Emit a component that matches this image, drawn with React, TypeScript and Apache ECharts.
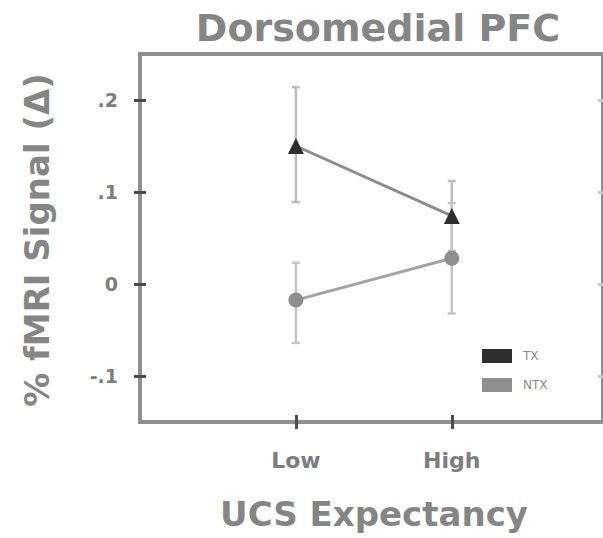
import React, { useEffect, useRef } from "react";
import * as echarts from "echarts";

const categories = ["Low", "High"];
const categoryPositions = [1, 2];
const seriesNames = ["TX", "NTX"];
const txMean = [0.15, 0.074];
const txLower = [0.089, 0.036];
const txUpper = [0.214, 0.112];
const ntxMean = [-0.0175, 0.028];
const ntxLower = [-0.064, -0.032];
const ntxUpper = [0.023, 0.088];
const yTicks = [-0.1, 0, 0.1, 0.2];

const fmtY = (v: number) => {
  if (Math.abs(v) < 1e-9) return "0";
  const s = Math.abs(v).toFixed(1).replace(/^0/, "");
  return (v < 0 ? "-" : "") + s;
};

const errRender = (color: string) => (params: any, api: any) => {
  const x = api.value(0);
  const lo = api.coord([x, api.value(1)]);
  const hi = api.coord([x, api.value(2)]);
  const cw = 4;
  const style = { stroke: color, lineWidth: 2.5, fill: "none" };
  return {
    type: "group",
    children: [
      { type: "line", shape: { x1: lo[0], y1: lo[1], x2: hi[0], y2: hi[1] }, style },
      { type: "line", shape: { x1: lo[0] - cw, y1: lo[1], x2: lo[0] + cw, y2: lo[1] }, style },
      { type: "line", shape: { x1: hi[0] - cw, y1: hi[1], x2: hi[0] + cw, y2: hi[1] }, style },
    ],
  };
};

export default function App() {
  const ref = useRef<HTMLDivElement>(null);
  useEffect(() => {
    if (!ref.current) return;
    const chart = echarts.init(ref.current, null, { renderer: "svg" });
    const xCommon = { type: "value", min: 0, max: 2.97, gridIndex: 0 };
    const yCommon = { type: "value", min: -0.15, max: 0.25 };
    const noLine = { show: false, onZero: false };
    const txt = "#7d7d7d";
    chart.setOption({
      animation: false,
      backgroundColor: "#ffffff",
      grid: {
        left: 140,
        right: 0,
        top: 54,
        bottom: 116,
        show: true,
        borderColor: "#8f8f8f",
        borderWidth: 4,
        backgroundColor: "transparent",
      },
      graphic: [
        {
          type: "text",
          x: 378,
          y: 28,
          style: {
            text: "Dorsomedial PFC",
            fontFamily: "DejaVu Sans",
            fontWeight: "bold",
            fontSize: 38,
            fill: "#858585",
            textAlign: "center",
            textVerticalAlign: "middle",
          },
        },
        {
          type: "text",
          x: 374,
          y: 514,
          style: {
            text: "UCS Expectancy",
            fontFamily: "DejaVu Sans",
            fontWeight: "bold",
            fontSize: 34,
            fill: "#858585",
            textAlign: "center",
            textVerticalAlign: "middle",
          },
        },
        {
          type: "text",
          x: 37,
          y: 240,
          rotation: Math.PI / 2,
          style: {
            text: "% fMRI Signal (Δ)",
            fontFamily: "DejaVu Sans",
            fontWeight: "bold",
            fontSize: 34,
            fill: "#858585",
            textAlign: "center",
            textVerticalAlign: "middle",
          },
        },
      ],
      legend: {
        orient: "vertical",
        left: 477,
        top: 344,
        itemWidth: 30,
        itemHeight: 14,
        itemGap: 15,
        icon: "rect",
        data: seriesNames,
        textStyle: { fontFamily: "DejaVu Sans", fontSize: 12, color: "#8a8a8a", padding: [0, 0, 0, 6] },
      },
      xAxis: [
        {
          ...xCommon,
          position: "bottom",
          axisLine: noLine,
          splitLine: { show: false },
          axisTick: {
            show: true,
            inside: false,
            length: 7,
            customValues: categoryPositions,
            lineStyle: { color: "#4a4a4a", width: 3 },
          },
          axisLabel: {
            show: true,
            customValues: categoryPositions,
            margin: 27,
            fontFamily: "DejaVu Sans",
            fontWeight: "bold",
            fontSize: 22,
            color: txt,
            formatter: (v: number) => {
              const i = categoryPositions.indexOf(Math.round(v));
              return i >= 0 ? categories[i] : "";
            },
          },
        },
        {
          ...xCommon,
          position: "bottom",
          axisLine: noLine,
          splitLine: { show: false },
          axisLabel: { show: false },
          axisTick: {
            show: true,
            inside: true,
            length: 7,
            customValues: categoryPositions,
            lineStyle: { color: "#4a4a4a", width: 3 },
          },
        },
      ],
      yAxis: [
        {
          ...yCommon,
          position: "left",
          axisLine: noLine,
          splitLine: { show: false },
          axisTick: {
            show: true,
            inside: false,
            length: 6,
            customValues: yTicks,
            lineStyle: { color: "#4a4a4a", width: 3 },
          },
          axisLabel: {
            show: true,
            customValues: yTicks,
            margin: 22,
            fontFamily: "DejaVu Sans",
            fontWeight: "bold",
            fontSize: 19,
            color: txt,
            formatter: fmtY,
          },
        },
        {
          ...yCommon,
          position: "left",
          axisLine: noLine,
          splitLine: { show: false },
          axisLabel: { show: false },
          axisTick: {
            show: true,
            inside: true,
            length: 6,
            customValues: yTicks,
            lineStyle: { color: "#4a4a4a", width: 3 },
          },
        },
        {
          ...yCommon,
          position: "right",
          axisLine: noLine,
          splitLine: { show: false },
          axisLabel: { show: false },
          axisTick: {
            show: true,
            inside: true,
            length: 5,
            customValues: yTicks,
            lineStyle: { color: "#c8c8c8", width: 3 },
          },
        },
      ],
      series: [
        {
          type: "custom",
          name: "TX err",
          xAxisIndex: 0,
          yAxisIndex: 0,
          z: 1,
          renderItem: errRender("#bdbdbd"),
          data: categoryPositions.map((x, i) => [x, txLower[i], txUpper[i]]),
          encode: { x: 0, y: [1, 2] },
          silent: true,
        },
        {
          type: "custom",
          name: "NTX err",
          xAxisIndex: 0,
          yAxisIndex: 0,
          z: 1,
          renderItem: errRender("#c4c4c4"),
          data: categoryPositions.map((x, i) => [x, ntxLower[i], ntxUpper[i]]),
          encode: { x: 0, y: [1, 2] },
          silent: true,
        },
        {
          type: "line",
          name: seriesNames[0],
          xAxisIndex: 0,
          yAxisIndex: 0,
          z: 3,
          data: categoryPositions.map((x, i) => [x, txMean[i]]),
          symbol: "triangle",
          symbolSize: 16,
          itemStyle: { color: "#2e2e2e" },
          lineStyle: { color: "#8c8c8c", width: 3 },
        },
        {
          type: "line",
          name: seriesNames[1],
          xAxisIndex: 0,
          yAxisIndex: 0,
          z: 3,
          data: categoryPositions.map((x, i) => [x, ntxMean[i]]),
          symbol: "circle",
          symbolSize: 15,
          itemStyle: { color: "#8e8e8e" },
          lineStyle: { color: "#a3a3a3", width: 3 },
        },
      ],
    });
    return () => chart.dispose();
  }, []);
  return (
    <div
      ref={ref}
      style={{ position: "absolute", left: 0, top: 0, width: 603, height: 538 }}
    />
  );
}
